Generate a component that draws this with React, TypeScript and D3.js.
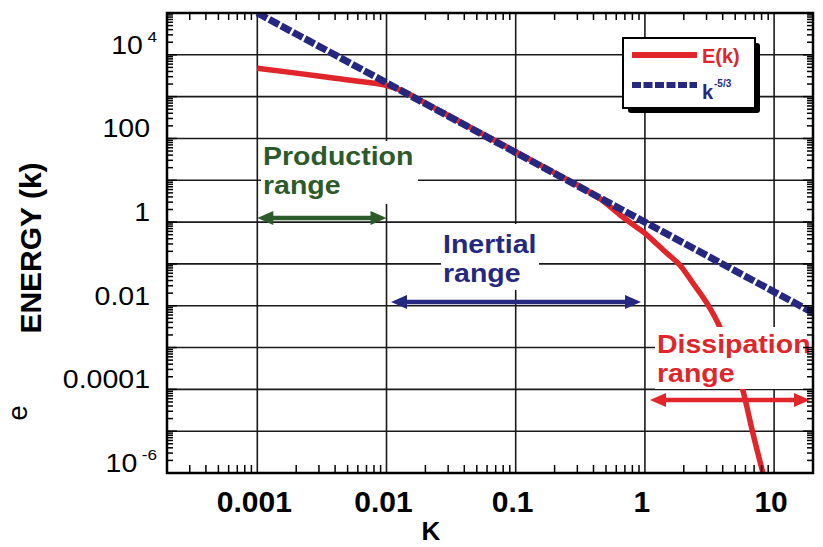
import * as d3 from "d3";

// wavenumber decades and their labels
const kMajor = [0.001, 0.01, 0.1, 1, 10];
const kLabels = ["0.001", "0.01", "0.1", "1", "10"];

// energy axis labels (base + superscript)
const eLabelValues = [1e4, 100, 1, 0.01, 1e-4, 1e-6];
const eLabelBase = ["10", "100", "1", "0.01", "0.0001", "10"];
const eLabelExp = ["4", "", "", "", "", "-6"];

// E(k)
const redK = [0.001, 0.002, 0.004, 0.007, 0.01, 0.013, 0.02, 0.05, 0.1, 0.2, 0.31, 0.45, 0.64, 0.85, 1.04, 1.25, 1.48, 1.87, 2.35, 3.02, 3.8, 4.6, 5.73, 6.85, 8.2];
const redE = [4800, 3650, 2750, 2200, 1850, 1420, 700, 152, 48, 15, 7.3, 3.6, 1.5, 0.78, 0.49, 0.29, 0.18, 0.093, 0.035, 0.0115, 0.0031, 0.0007, 0.000095, 0.000009, 0.000001];

// k^-5/3 reference line
const blueK = [0.001, 0.01, 0.1, 1, 10, 20];
const blueE = [100000, 2150, 46, 1, 0.0215, 0.0068];

const RED = "#e0262a";
const NAVY = "#25287e";
const GREEN = "#2d5a2b";
const FONT = "Liberation Sans, Arial, Helvetica, sans-serif";

function Arrow({ x1, x2, y, color }: { x1: number; x2: number; y: number; color: string }) {
  const L = 16, hw = 7;
  return (
    <g>
      <line x1={x1 + L - 2} x2={x2 - L + 2} y1={y} y2={y} stroke={color} strokeWidth={4.5} />
      <polygon points={`${x1},${y} ${x1 + L},${y - hw} ${x1 + L},${y + hw}`} fill={color} />
      <polygon points={`${x2},${y} ${x2 - L},${y - hw} ${x2 - L},${y + hw}`} fill={color} />
    </g>
  );
}

function Label({ x, y, lines, color, size = 25 }: { x: number; y: number; lines: string[]; color: string; size?: number }) {
  return (
    <g>
      {lines.map((t, i) => (
        <text key={i} transform={`translate(${x},${y + i * 29}) scale(1.14,1)`} fontSize={size}
          fontWeight="bold" fill={color} fontFamily={FONT}>{t}</text>
      ))}
    </g>
  );
}

export default function App() {
  const x = d3.scaleLog().domain([2e-4, 20]).range([167, 813]);
  const y = d3.scaleLog().domain([1e-6, 1e5]).range([473, 13]);
  const [x0, x1] = x.range();
  const [y0, y1] = y.range();

  const xt = x.ticks();
  const yt = y.ticks(30);
  const isMajor = (v: number) => Math.abs(Math.log10(v) - Math.round(Math.log10(v))) < 1e-6;
  const yMajor = yt.filter(isMajor);

  const line = d3.line<[number, number]>().x(d => x(d[0])).y(d => y(d[1]));
  const redPath = line.curve(d3.curveMonotoneX)(redK.map((k, i) => [k, redE[i]]));
  const bluePath = line.curve(d3.curveLinear)(blueK.map((k, i) => [k, blueE[i]]));

  return (
    <svg width={823} height={547} style={{ position: "absolute", left: 0, top: 0, background: "#fff" }} fontFamily={FONT}>
      <defs>
        <clipPath id="plot"><rect x={x0} y={y1} width={x1 - x0} height={y0 - y1} /></clipPath>
      </defs>

      {/* grid */}
      {kMajor.map(k => (
        <line key={"gx" + k} x1={x(k)} x2={x(k)} y1={y1} y2={y0} stroke="#1a1a1a" strokeWidth={1.6} />
      ))}
      {yMajor.map(v => (
        <line key={"gy" + v} x1={x0} x2={x1} y1={y(v)} y2={y(v)} stroke="#1a1a1a" strokeWidth={1.6} />
      ))}

      {/* curves */}
      <g clipPath="url(#plot)">
        <path d={redPath ?? ""} fill="none" stroke={RED} strokeWidth={5.5} strokeLinejoin="round" />
        <path d={bluePath ?? ""} fill="none" stroke={NAVY} strokeWidth={7} strokeDasharray="11 2.5" />
      </g>

      {/* annotation boxes */}
      <rect x={261} y={141} width={157} height={63} fill="#fff" />
      <rect x={441} y={224} width={98} height={66} fill="#fff" />
      <rect x={655} y={327} width={157} height={62} fill="#fff" />

      <Label x={263} y={165} lines={["Production", "range"]} color={GREEN} />
      <Label x={443} y={253} lines={["Inertial", "range"]} color={NAVY} />
      <Label x={657} y={353} lines={["Dissipation", "range"]} color={RED} />

      <Arrow x1={x(0.001)} x2={x(0.01)} y={218} color={GREEN} />
      <Arrow x1={391} x2={641} y={302} color={NAVY} />
      <Arrow x1={650} x2={810} y={400} color={RED} />

      {/* legend */}
      <rect x={628} y={43} width={132} height={70} fill="#000" rx={3} />
      <rect x={623} y={38} width={132} height={70} fill="#fff" stroke="#000" strokeWidth={2} />
      <line x1={632} x2={697} y1={55} y2={55} stroke={RED} strokeWidth={6} />
      <text x={702} y={63} fontSize={20} fontWeight="bold" fill={RED}>E(k)</text>
      <line x1={632} x2={697} y1={85} y2={85} stroke={NAVY} strokeWidth={6} strokeDasharray="9 2.5" />
      <text x={702} y={99} fontSize={20} fontWeight="bold" fill={NAVY}>k</text>
      <text x={714} y={87} fontSize={10} fontWeight="bold" fill={NAVY}>-5/3</text>

      {/* frame */}
      <rect x={x0} y={y1} width={x1 - x0} height={y0 - y1} fill="none" stroke="#000" strokeWidth={2.5} />

      {/* x ticks */}
      {xt.filter(v => !isMajor(v)).map(v => (
        <g key={"xt" + v}>
          <line x1={x(v)} x2={x(v)} y1={y0} y2={y0 - 8} stroke="#000" strokeWidth={1.5} />
          <line x1={x(v)} x2={x(v)} y1={y1} y2={y1 + 7} stroke="#000" strokeWidth={1.5} />
        </g>
      ))}
      {/* y ticks */}
      {yt.map(v => {
        const len = isMajor(v) ? 10 : 6;
        return (
          <g key={"yt" + v}>
            <line x1={x0} x2={x0 + len} y1={y(v)} y2={y(v)} stroke="#000" strokeWidth={1.5} />
            <line x1={x1} x2={x1 - len} y1={y(v)} y2={y(v)} stroke="#000" strokeWidth={1.5} />
          </g>
        );
      })}

      {/* x tick labels */}
      {kMajor.map((k, i) => (
        <text key={"xl" + k} x={x(k) - 3} y={512} textAnchor="middle" fontSize={30} fontWeight="bold">{kLabels[i]}</text>
      ))}
      <text x={431} y={540} textAnchor="middle" fontSize={26} fontWeight="bold">K</text>

      {/* y tick labels */}
      {eLabelValues.map((v, i) => (
        <text key={"yl" + v} transform={`translate(${eLabelExp[i] ? 157 : 150},${y(v) - 1}) scale(1.14,1)`}
          textAnchor="end" fontSize={25}>
          {eLabelBase[i]}
          {eLabelExp[i] && <tspan dx={4} dy={-12} fontSize={15}>{eLabelExp[i]}</tspan>}
        </text>
      ))}

      <text transform={`translate(41,248) rotate(-90)`} textAnchor="middle" fontSize={30} fontWeight="bold">ENERGY (k)</text>
      <text transform={`translate(27,413) rotate(-90)`} textAnchor="middle" fontSize={28}>e</text>
    </svg>
  );
}
